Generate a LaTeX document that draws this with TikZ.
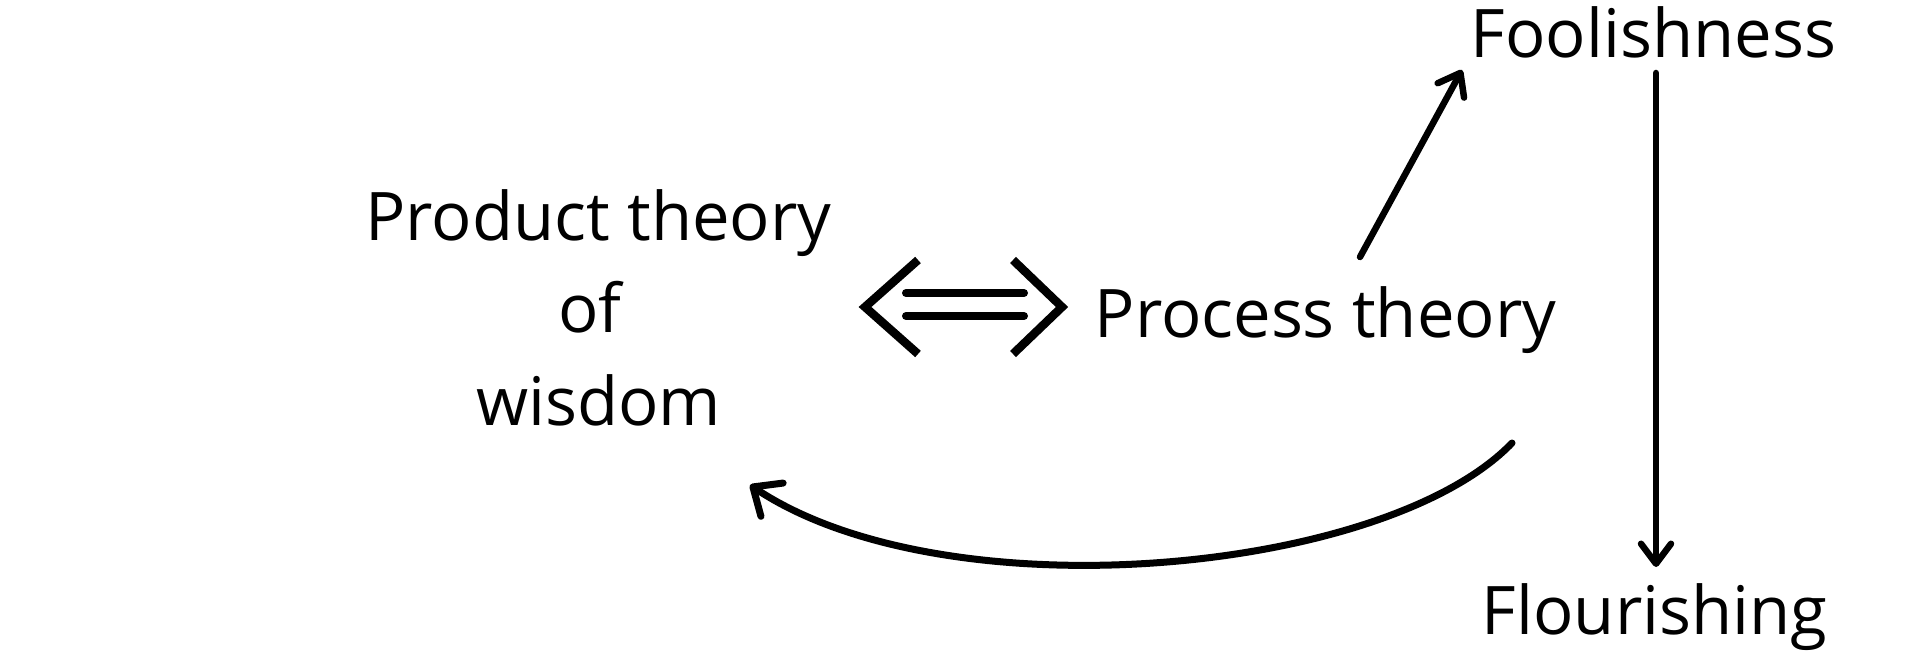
\documentclass[tikz,border=0pt]{standalone}
\usepackage{fontspec}
\setmainfont{Open Sans}
\usetikzlibrary{arrows.meta}
\begin{document}
\begin{tikzpicture}[x=1pt,y=-1pt,
  lbl/.style={inner sep=0pt, anchor=base, align=center, font=\fontsize{67}{92.5}\selectfont},
  conn/.style={line width=6.5pt, line cap=round, line join=round,
    -{Straight Barb[length=20pt,width=30pt,line cap=round,line join=round]}},
  chev/.style={line width=8.5pt, line cap=butt, line join=miter},
  bar/.style={line width=8pt, line cap=round}]
\useasboundingbox (0,0) rectangle (1920,663);
% texts
\node[lbl] (prod) at (598.5,425) {Product theory\\of\hphantom{\ }\\wisdom};
\node[lbl] (proc) at (1325.5,337) {Process theory};
\node[lbl] (fool) at (1653.5,58) {Foolishness};
\node[lbl] (flour) at (1654.5,634) {Flourishing};
% double arrow symbol
\coordinate (lt) at (918,260); \coordinate (lm) at (865,307); \coordinate (lb) at (918,354);
\coordinate (rt) at (1013,260); \coordinate (rm) at (1062,307); \coordinate (rb) at (1013,354);
\coordinate (b1l) at (906,293); \coordinate (b1r) at (1024,293);
\coordinate (b2l) at (906,316); \coordinate (b2r) at (1024,316);
\draw[chev] (lt) -- (lm) -- (lb);
\draw[chev] (rt) -- (rm) -- (rb);
\draw[bar] (b1l) -- (b1r);
\draw[bar] (b2l) -- (b2r);
% connectors
\coordinate (d0) at (1360,257); \coordinate (d1) at (1462,70);
\coordinate (v0) at (1656,73); \coordinate (v1) at (1656,567);
\coordinate (c0) at (1512,443); \coordinate (c1) at (750,485);
\coordinate (ca) at (1385,575); \coordinate (cb) at (945,615);
\draw[conn] (d0) -- (d1);
\draw[conn] (v0) -- (v1);
\draw[conn, line width=7pt, -{Straight Barb[length=23pt,width=40pt,line cap=round,line join=round]}] (c0) .. controls (ca) and (cb) .. (c1);
\end{tikzpicture}
\end{document}
